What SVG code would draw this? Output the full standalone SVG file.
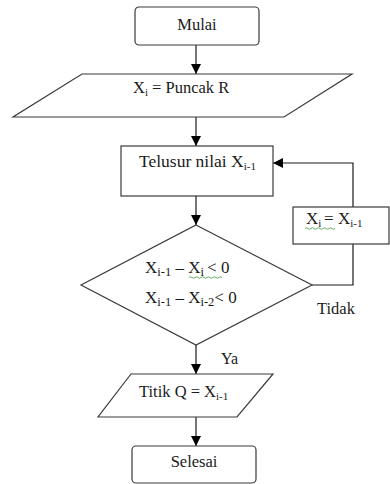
<svg xmlns="http://www.w3.org/2000/svg" width="390" height="484" viewBox="0 0 390 484">
  <style>
    .shape { fill: #ffffff; stroke: #3a3a3a; stroke-width: 1.2; }
    .link { fill: none; stroke: #1a1a1a; stroke-width: 1.2; }
    .lbl { font-family: 'Liberation Serif', 'Times New Roman', serif; font-size: 16.5px; fill: #1a1a1a; }
    .sub { font-size: 11px; }
    .squiggle { fill: none; stroke: #3c9a3c; stroke-width: 0.8; }
  </style>
  <defs>
    <marker id="arrow" markerUnits="userSpaceOnUse" markerWidth="10" markerHeight="10" refX="10" refY="5" orient="auto">
      <path d="M0,0 L10,5 L0,10 Z" fill="#000000"/>
    </marker>
  </defs>

  <rect width="390" height="484" fill="#ffffff"/>

  <!-- connectors -->
  <g id="connectors">
    <line class="link" x1="196" y1="45" x2="196" y2="74" marker-end="url(#arrow)"/>
    <line class="link" x1="196" y1="117" x2="196" y2="146" marker-end="url(#arrow)"/>
    <line class="link" x1="196" y1="196" x2="196" y2="225" marker-end="url(#arrow)"/>
    <line class="link" x1="196" y1="345" x2="196" y2="374" marker-end="url(#arrow)"/>
    <line class="link" x1="196" y1="417" x2="196" y2="446" marker-end="url(#arrow)"/>
    <polyline class="link" points="312,285 353,285 353,244"/>
    <polyline class="link" points="353,207 353,163 273,163" marker-end="url(#arrow)"/>
  </g>

  <!-- start -->
  <g id="mulai">
    <rect class="shape" x="135" y="7" width="124" height="38" rx="4"/>
    <text class="lbl" x="197" y="30" text-anchor="middle">Mulai</text>
  </g>

  <!-- input -->
  <g id="puncak">
    <polygon class="shape" points="82,74 352,74 284,117 13,117"/>
    <text class="lbl" x="133" y="93">X<tspan class="sub" dy="3">i</tspan><tspan dy="-3"> = Puncak R</tspan></text>
  </g>

  <!-- process -->
  <g id="telusur">
    <rect class="shape" x="121" y="146" width="152" height="50"/>
    <text class="lbl" x="139" y="167" style="font-size:17.5px">Telusur nilai X<tspan class="sub" dy="3">i-1</tspan></text>
  </g>

  <!-- decision -->
  <g id="kondisi">
    <polygon class="shape" points="196,225 312,285 196,345 81,285"/>
    <text class="lbl" x="145" y="273" style="font-size:17px">X<tspan class="sub" dy="3" style="font-size:12.5px">i-1</tspan><tspan dy="-3"> – X</tspan><tspan class="sub" dy="3" style="font-size:12.5px">i </tspan><tspan dy="-3">&lt; 0</tspan></text>
    <path class="squiggle" d="M189,277.5 q1.5,-1.5 3,0 t3,0 t3,0 t3,0 t3,0 t3,0 t3,0 t3,0 t3,0 t3,0 t3,0"/>
    <text class="lbl" x="145" y="303" style="font-size:17px">X<tspan class="sub" dy="3" style="font-size:12.5px">i-1</tspan><tspan dy="-3"> – X</tspan><tspan class="sub" dy="3" style="font-size:12.5px">i-2</tspan><tspan dy="-3">&lt; 0</tspan></text>
    <text class="lbl" x="317" y="314">Tidak</text>
    <text class="lbl" x="221" y="364" style="font-size:16px">Ya</text>
  </g>

  <!-- update -->
  <g id="update">
    <rect class="shape" x="293" y="207" width="96" height="37"/>
    <text class="lbl" x="306" y="224" style="font-size:17px">X<tspan class="sub" dy="3">i </tspan><tspan dy="-3">= X</tspan><tspan class="sub" dy="3">i-1</tspan></text>
    <path class="squiggle" d="M305,228.5 q1.5,-1.5 3,0 t3,0 t3,0 t3,0 t3,0 t3,0 t3,0 t3,0 t3,0 t3,0"/>
  </g>

  <!-- output -->
  <g id="titik">
    <polygon class="shape" points="131,374 273,374 237,417 98,417"/>
    <text class="lbl" x="139" y="397">Titik Q = X<tspan class="sub" dy="3">i-1</tspan></text>
  </g>

  <!-- end -->
  <g id="selesai">
    <rect class="shape" x="132" y="446" width="124" height="37" rx="4"/>
    <text class="lbl" x="194" y="467" text-anchor="middle">Selesai</text>
  </g>
</svg>
